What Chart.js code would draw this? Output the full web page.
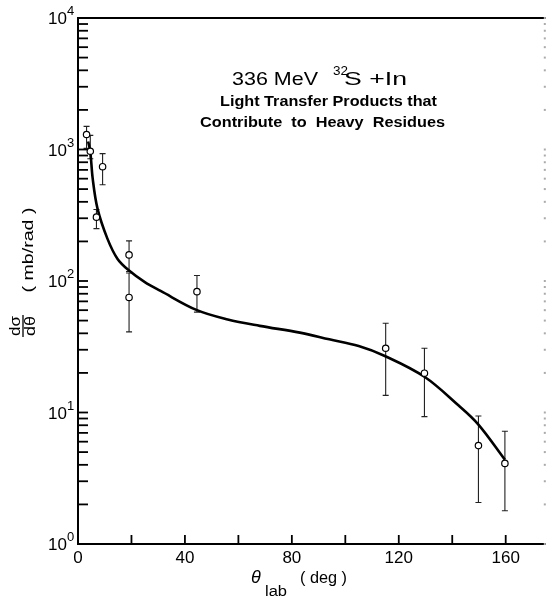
<!DOCTYPE html>
<html>
<head>
<meta charset="utf-8">
<script src="https://cdn.jsdelivr.net/npm/chart.js@4/dist/chart.umd.min.js"></script>
<style>
  html, body { margin: 0; padding: 0; background: #fff; }
  #wrap { width: 551px; height: 597px; }
</style>
</head>
<body>
<div id="wrap"><canvas id="c" width="551" height="597"></canvas></div>
<script>
// measured points (theta_lab in deg, dsigma/dtheta in mb/rad)
const angles  = [3.2, 4.6, 9.2, 6.9, 19.1, 19.1, 44.5, 115.1, 129.6, 149.8, 159.7];
const values  = [1300, 970, 740, 306, 158, 75, 83, 30.8, 19.9, 5.6, 4.1];
const errHigh = [1500, 1280, 930, 350, 202, 115, 110, 47.7, 30.8, 9.4, 7.2];
const errLow  = [1020, 850, 540, 250, 118, 41, 58, 13.5, 9.3, 2.07, 1.79];

// drawn curve
const curveAngles = [3.8, 4.6, 5.5, 7.3, 11, 14.8, 19.1, 25, 30.9, 44.5, 56, 68, 83, 94, 105, 115, 129.6, 142.4, 149.8, 159.7];
const curveValues = [1150, 960, 600, 355, 210, 147, 120, 98, 84, 60, 51, 45.6, 40.5, 36, 32, 26.8, 18.7, 11.3, 8.1, 4.38];

const xTicks = [0, 20, 40, 60, 80, 100, 120, 140, 160];
const xLabels = [0, 40, 80, 120, 160];
const yDecades = [0, 1, 2, 3, 4];

const FONT = '"Liberation Sans", Arial, sans-serif';

const toXY = (xs, ys) => xs.map((x, i) => ({ x: x, y: ys[i] }));

// draw text squeezed or stretched to a given width
function fitText(ctx, text, x, y, width, align) {
  const w = ctx.measureText(text).width;
  const k = width / w;
  ctx.save();
  ctx.textAlign = 'left';
  let left = x;
  if (align === 'center') left = x - width / 2;
  ctx.translate(left, y);
  ctx.scale(k, 1);
  ctx.fillText(text, 0, 0);
  ctx.restore();
}

const decor = {
  id: 'decor',
  beforeDatasetsDraw(chart) {
    const { ctx, scales: { x, y } } = chart;
    ctx.save();
    ctx.strokeStyle = '#222';
    ctx.lineWidth = 1.1;
    angles.forEach((a, i) => {
      const px = x.getPixelForValue(a);
      const hi = y.getPixelForValue(errHigh[i]);
      const lo = y.getPixelForValue(errLow[i]);
      ctx.beginPath();
      ctx.moveTo(px, hi); ctx.lineTo(px, lo);
      ctx.moveTo(px - 3, hi); ctx.lineTo(px + 3, hi);
      ctx.moveTo(px - 3, lo); ctx.lineTo(px + 3, lo);
      ctx.stroke();
    });
    ctx.restore();
  },
  afterDraw(chart) {
    const { ctx, chartArea: ca, scales: { x, y } } = chart;
    ctx.save();
    ctx.strokeStyle = '#000';
    ctx.fillStyle = '#000';

    // top frame line
    ctx.lineWidth = 2;
    ctx.beginPath();
    ctx.moveTo(ca.left, ca.top); ctx.lineTo(ca.right, ca.top);
    ctx.stroke();

    // inward ticks on y
    ctx.lineWidth = 1.8;
    yDecades.forEach(d => {
      const steps = d === 4 ? [1] : [1, 2, 3, 4, 5, 6, 7, 8, 9];
      steps.forEach(m => {
        const py = y.getPixelForValue(m * Math.pow(10, d));
        ctx.strokeStyle = '#000';
        ctx.beginPath();
        ctx.moveTo(ca.left, py); ctx.lineTo(ca.left + 10, py);
        ctx.stroke();
        // faint marks on the right edge
        ctx.fillStyle = '#aaa';
        ctx.fillRect(ca.right - 2, py - 1, 2, 2);
      });
    });

    // inward ticks on x
    ctx.strokeStyle = '#000';
    xTicks.forEach(t => {
      const px = x.getPixelForValue(t);
      ctx.beginPath();
      ctx.moveTo(px, ca.bottom); ctx.lineTo(px, ca.bottom - 9);
      ctx.stroke();
    });

    // y labels 10^n
    ctx.fillStyle = '#000';
    yDecades.forEach(d => {
      const py = y.getPixelForValue(Math.pow(10, d));
      ctx.font = '17px ' + FONT;
      ctx.textAlign = 'right';
      ctx.textBaseline = 'alphabetic';
      ctx.fillText('10', 67, py + 6);
      ctx.font = '13px ' + FONT;
      ctx.textAlign = 'left';
      ctx.fillText(String(d), 67, py - 3);
    });

    // x labels
    ctx.font = '17px ' + FONT;
    ctx.textAlign = 'center';
    xLabels.forEach(t => {
      ctx.fillText(String(t), x.getPixelForValue(t), ca.bottom + 19);
    });

    // x title
    ctx.font = 'italic 18px ' + FONT;
    ctx.fillText('θ', 256, 583);
    ctx.font = '14px ' + FONT;
    ctx.textAlign = 'left';
    fitText(ctx, 'lab', 265, 596, 22);
    ctx.font = '16px ' + FONT;
    fitText(ctx, '( deg )', 300, 583, 47);

    // y title (rotated)
    ctx.save();
    ctx.translate(33, 250);
    ctx.rotate(-Math.PI / 2);
    ctx.font = '15px ' + FONT;
    fitText(ctx, '( mb/rad )', 0, 0, 85, 'center');
    ctx.restore();

    ctx.save();
    ctx.translate(23, 326);
    ctx.rotate(-Math.PI / 2);
    ctx.font = '15px ' + FONT;
    fitText(ctx, 'dσ', 0, -3, 20, 'center');
    fitText(ctx, 'dθ', 0, 12, 20, 'center');
    ctx.lineWidth = 1.3;
    ctx.beginPath();
    ctx.moveTo(-11, 0); ctx.lineTo(11, 0);
    ctx.stroke();
    ctx.restore();

    // annotation
    ctx.font = '19px ' + FONT;
    fitText(ctx, '336 MeV', 232, 85, 86);
    ctx.font = '13px ' + FONT;
    fitText(ctx, '32', 333, 75, 15);
    ctx.font = '19px ' + FONT;
    fitText(ctx, 'S +In', 344, 85, 63);

    ctx.font = 'bold 14px ' + FONT;
    fitText(ctx, 'Light Transfer Products that', 220, 106, 217);
    fitText(ctx, 'Contribute  to  Heavy  Residues', 200, 127, 245);

    ctx.restore();
  }
};

new Chart(document.getElementById('c'), {
  type: 'scatter',
  data: {
    datasets: [
      {
        data: toXY(curveAngles, curveValues),
        showLine: true,
        borderColor: '#000',
        borderWidth: 2.6,
        pointRadius: 0,
        tension: 0.35,
        order: 2
      },
      {
        data: toXY(angles, values),
        showLine: false,
        pointRadius: 3.2,
        pointBackgroundColor: '#fff',
        pointBorderColor: '#000',
        pointBorderWidth: 1.2,
        order: 1
      }
    ]
  },
  options: {
    responsive: false,
    animation: false,
    devicePixelRatio: 1,
    layout: { padding: { left: 70, right: -3, top: 18, bottom: 45 } },
    plugins: { legend: { display: false }, tooltip: { enabled: false } },
    scales: {
      x: {
        type: 'linear', min: 0, max: 175,
        grid: { display: false },
        border: { display: true, color: '#000', width: 2 },
        ticks: { display: false }
      },
      y: {
        type: 'logarithmic', min: 1, max: 10000,
        grid: { display: false },
        border: { display: true, color: '#000', width: 2 },
        ticks: { display: false }
      }
    }
  },
  plugins: [decor]
});
</script>
</body>
</html>
